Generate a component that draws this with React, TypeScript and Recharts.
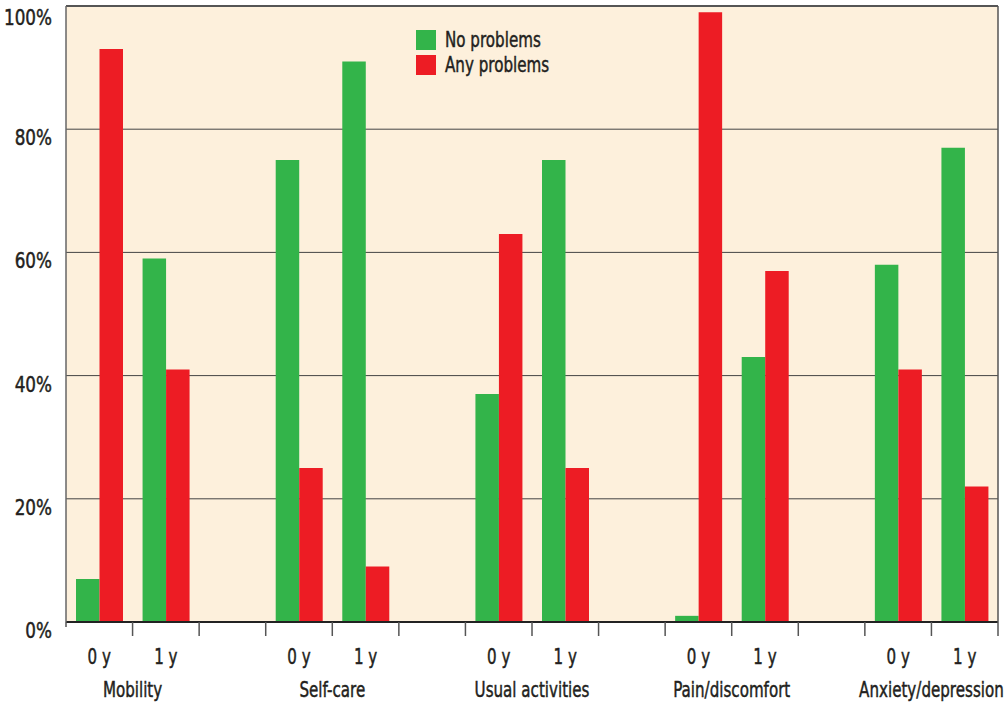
import { BarChart, Bar, XAxis, YAxis, CartesianGrid, ReferenceLine } from 'recharts';

const groups = ['Mobility', 'Self-care', 'Usual activities', 'Pain/discomfort', 'Anxiety/depression'];
const timepoints = ['0 y', '1 y'];
const seriesNames = ['No problems', 'Any problems'];
// values per group, in order 0 y, 1 y
const noProblems = [7, 59, 75, 91, 37, 75, 1, 43, 58, 77];
const anyProblems = [93, 41, 25, 9, 63, 25, 99, 57, 41, 22];
const yTicks = [0, 20, 40, 60, 80, 100];

const COLORS = ['#33b44a', '#ed1c24'];
const FONT = '"DejaVu Sans", sans-serif';
const TEXT = '#231f20';
const FS = 21;
const SQUEEZE = 0.72; // the original uses a condensed face

// one slot per timepoint, with an empty slot between groups
const data: any[] = [];
groups.forEach((g, gi) => {
    timepoints.forEach((t, ti) => {
        const k = gi * timepoints.length + ti;
        data.push({ slot: `${g}|${t}`, group: g, time: t, first: ti === 0, no: noProblems[k], any: anyProblems[k] });
    });
    if (gi < groups.length - 1) data.push({ slot: `gap${gi}`, group: '', time: '', first: false, no: null, any: null });
});

const W = 1004;
const H = 704;
const BAND = (W - 66 - 6) / data.length;

const CText = ({ x, y, anchor = 'middle', squeeze = SQUEEZE, children }: any) => (
    <g transform={`translate(${x},${y}) scale(${squeeze},1)`}>
        <text x={0} y={0} textAnchor={anchor} fill={TEXT} stroke={TEXT} strokeWidth={0.5} fontSize={FS} fontFamily={FONT}>
            {children}
        </text>
    </g>
);

const XTick = (props: any) => {
    const { x, y, index } = props;
    const half = typeof props.payload?.offset === 'number' && props.payload.offset > 0 ? props.payload.offset : BAND / 2;
    const d = data[index];
    return (
        <g>
            {index === 0 && <line x1={x - half} x2={x - half} y1={y} y2={y + 5} stroke="#555" strokeWidth={1.5} />}
            <line x1={x + half} x2={x + half} y1={y} y2={y + 14} stroke="#555" strokeWidth={1.5} />
            {d?.time && <CText x={x} y={y + 42}>{d.time}</CText>}
            {d?.first && <CText x={x + half} y={y + 75}>{d.group}</CText>}
        </g>
    );
};

const YTick = (props: any) => {
    const { y, payload } = props;
    return <CText x={52} y={y + 16} anchor="end" squeeze={0.8}>{payload.value}%</CText>;
};

export default function App() {
    return (
        <div style={{ position: 'absolute', left: 0, top: 0, width: W, height: H, background: '#fff', fontFamily: FONT }}>
            <BarChart width={W} height={H} data={data} margin={{ top: 6, right: 0, left: 0, bottom: 0 }} barGap={0}>
                <CartesianGrid vertical={false} stroke="#444" fill="#fdf0dc" fillOpacity={1} />
                <XAxis
                    dataKey="slot"
                    interval={0}
                    height={82}
                    tickSize={0}
                    tickMargin={0}
                    tickLine={false}
                    axisLine={{ stroke: '#222', strokeWidth: 2 }}
                    tick={<XTick />}
                />
                <YAxis
                    domain={[0, 100]}
                    ticks={yTicks}
                    width={66}
                    tickLine={false}
                    axisLine={{ stroke: '#666', strokeWidth: 1.5 }}
                    tick={<YTick />}
                />
                <YAxis yAxisId="right" orientation="right" domain={[0, 100]} width={6} tick={false} tickLine={false} axisLine={{ stroke: '#555', strokeWidth: 1.5 }} />
                <ReferenceLine y={100} stroke="#555" strokeWidth={2} />
                <Bar dataKey="no" name={seriesNames[0]} fill={COLORS[0]} barSize={23.5} isAnimationActive={false} />
                <Bar dataKey="any" name={seriesNames[1]} fill={COLORS[1]} barSize={23.5} isAnimationActive={false} />
            </BarChart>
            <div style={{ position: 'absolute', left: 416, top: 30, color: TEXT, fontSize: FS, fontFamily: FONT, WebkitTextStroke: `0.5px ${TEXT}` }}>
                {seriesNames.map((n, i) => (
                    <div key={n} style={{ display: 'flex', alignItems: 'center', height: 20, marginBottom: 5 }}>
                        <span style={{ width: 20, height: 20, background: COLORS[i], display: 'inline-block', marginRight: 9, flexShrink: 0 }} />
                        <span style={{ lineHeight: '20px', display: 'inline-block', whiteSpace: 'nowrap', transform: `scaleX(${SQUEEZE})`, transformOrigin: 'left center' }}>{n}</span>
                    </div>
                ))}
            </div>
        </div>
    );
}
